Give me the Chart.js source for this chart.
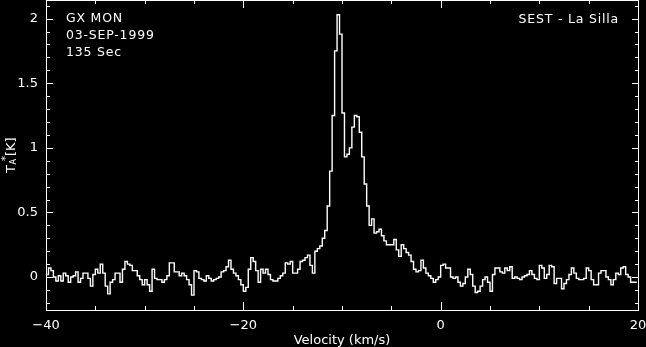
<!DOCTYPE html>
<html>
<head>
<meta charset="utf-8">
<script src="https://cdn.jsdelivr.net/npm/chart.js@4.4.1/dist/chart.umd.min.js"></script>
<style>
  html, body { margin: 0; padding: 0; background: #000; }
  #wrap { width: 646px; height: 347px; }
</style>
</head>
<body>
<div id="wrap"><canvas id="spec" width="646" height="347"></canvas></div>
<script>
// GX Mon spectrum (SEST), antenna temperature per channel
const vStart = -40;        // km/s, left edge of first channel
const channelWidth = 0.25; // km/s
const tA = [
   0.02,  0.07,  0.05,  0.00, -0.03,  0.01, -0.03,  0.03,  0.01, -0.04,
   0.00,  0.01,  0.04, -0.04, -0.01,  0.03,  0.03, -0.01, -0.07,  0.02,
   0.06,  0.03,  0.10,  0.03, -0.07, -0.13, -0.04, -0.02,  0.03,  0.03,
  -0.04,  0.06,  0.12,  0.10,  0.09,  0.05,  0.05,  0.01, -0.02, -0.06,
  -0.02, -0.06, -0.11,  0.06, -0.01, -0.02, -0.02, -0.04, -0.02,  0.01,
   0.11,  0.11,  0.04,  0.04,  0.01,  0.03,  0.01, -0.02, -0.06, -0.14,
   0.05,  0.04, -0.01, -0.02, -0.03,  0.01, -0.01, -0.03, -0.02, -0.01,
   0.00,  0.04,  0.05,  0.08,  0.13,  0.06,  0.03,  0.01, -0.02, -0.06,
  -0.11, -0.08,  0.06,  0.15,  0.12,  0.05, -0.04,  0.06,  0.03,  0.06,
   0.02, -0.02, -0.03, -0.03, -0.01,  0.01,  0.03,  0.11,  0.10,  0.12,
   0.03,  0.03,  0.06,  0.12,  0.13,  0.15,  0.17,  0.09,  0.03,  0.20,
   0.22,  0.24,  0.30,  0.36,  0.55,  0.82,  1.25,  1.75,  2.03,  1.88,
   1.27,  0.93,  0.95,  1.00,  1.16,  1.25,  1.24,  1.12,  0.93,  0.72,
   0.55,  0.40,  0.45,  0.34,  0.35,  0.37,  0.32,  0.28,  0.25,  0.25,
   0.25,  0.29,  0.21,  0.16,  0.25,  0.22,  0.19,  0.17,  0.12,  0.06,
   0.04,  0.05,  0.13,  0.07,  0.03,  0.01, -0.01, -0.04, -0.02,  0.00,
   0.09,  0.10,  0.07,  0.07,  0.00, -0.01,  0.00, -0.04, -0.07, -0.05,
   0.00,  0.06,  0.02, -0.07, -0.12, -0.11, -0.07, -0.02,  0.00, -0.04,
  -0.11,  0.02,  0.07,  0.07,  0.04,  0.03,  0.07,  0.05,  0.08, -0.01,
   0.00, -0.01, -0.02,  0.00,  0.01,  0.02,  0.05,  0.02, -0.01, -0.02,
   0.09,  0.07, -0.01,  0.02,  0.09,  0.08, -0.05, -0.01, -0.01, -0.09,
  -0.05, -0.02,  0.02,  0.07,  0.03, -0.01, -0.02, -0.02, -0.01,  0.07,
   0.05, -0.02, -0.06, -0.06,  0.03,  0.05,  0.05,  0.00, -0.02, -0.06,
  -0.02,  0.03,  0.02,  0.07,  0.08,  0.02,  0.00, -0.04, -0.04, -0.04
];
const xTicks = [-40, -20, 0, 20];
const yTicks = [0, 0.5, 1, 1.5, 2];
const xRange = [-40, 20];
const yRange = [-0.255, 2.144];
const headerLines = ['GX MON', '03-SEP-1999', '135 Sec'];
const siteLabel = 'SEST - La Silla';

const FONT = 'DejaVu Sans';

function fmtTick(v) {
    return v < 0 ? '\u2212' + Math.abs(v) : String(v);
}

// black page, boxed frame with inward ticks, header text, y label
const frameAndText = {
    id: 'frameAndText',
    beforeDraw(chart) {
        const ctx = chart.ctx;
        ctx.save();
        ctx.fillStyle = '#000';
        ctx.fillRect(0, 0, chart.width, chart.height);
        ctx.restore();
    },
    afterDraw(chart) {
        const { ctx, chartArea: a, scales: { x, y } } = chart;
        ctx.save();
        ctx.strokeStyle = '#fff';
        ctx.lineWidth = 1;
        ctx.strokeRect(a.left + 0.5, a.top + 0.5, a.right - a.left, a.bottom - a.top);

        ctx.beginPath();
        for (let k = -2; k <= 21; k++) {
            const py = Math.round(y.getPixelForValue(k / 10)) + 0.5;
            const len = k % 5 === 0 ? 7 : 4;
            ctx.moveTo(a.left, py); ctx.lineTo(a.left + len, py);
            ctx.moveTo(a.right + 1, py); ctx.lineTo(a.right + 1 - len, py);
        }
        for (let v = xRange[0] + 5; v < xRange[1]; v += 5) {
            const px = Math.round(x.getPixelForValue(v)) + 0.5;
            const len = v % 20 === 0 ? 8 : 4;
            ctx.moveTo(px, a.bottom); ctx.lineTo(px, a.bottom - len);
            ctx.moveTo(px, a.top); ctx.lineTo(px, a.top + len);
        }
        ctx.stroke();

        ctx.fillStyle = '#fff';
        ctx.font = '12.5px "' + FONT + '"';
        ctx.letterSpacing = '0.8px';
        ctx.textBaseline = 'alphabetic';
        ctx.textAlign = 'left';
        headerLines.forEach((t, i) => ctx.fillText(t, 66, 21.5 + i * 17.4));
        ctx.textAlign = 'right';
        ctx.fillText(siteLabel, 619, 22.5);
        ctx.letterSpacing = '0px';

        // T_A^*[K], rotated
        ctx.translate(15, 173);
        ctx.rotate(-Math.PI / 2);
        ctx.textAlign = 'left';
        ctx.font = '13px "' + FONT + '"';
        ctx.fillText('T', 0, 0);
        ctx.font = '8px "' + FONT + '"';
        ctx.fillText('A', 8.5, 1);
        ctx.font = '10px "' + FONT + '"';
        ctx.fillText('*', 12, -6);
        ctx.font = '13px "' + FONT + '"';
        ctx.fillText('[K]', 17, 0);
        ctx.restore();
    }
};

const points = tA.map((t, i) => ({ x: vStart + channelWidth * (i + 0.5), y: t }));

new Chart(document.getElementById('spec'), {
    type: 'line',
    data: {
        datasets: [{
            data: points,
            borderColor: '#fff',
            borderWidth: 1.4,
            pointRadius: 0,
            stepped: 'middle',
            fill: false
        }]
    },
    options: {
        responsive: false,
        animation: false,
        events: [],
        devicePixelRatio: 1,
        layout: { padding: { top: 0, right: 8, left: 0, bottom: 0 } },
        plugins: { legend: { display: false }, tooltip: { enabled: false } },
        scales: {
            x: {
                type: 'linear',
                min: xRange[0],
                max: xRange[1],
                grid: { display: false, drawTicks: false },
                border: { display: false },
                afterBuildTicks: s => { s.ticks = xTicks.map(v => ({ value: v })); },
                ticks: {
                    color: '#fff',
                    font: { family: FONT, size: 13 },
                    padding: 8,
                    maxRotation: 0,
                    autoSkip: false,
                    callback: v => fmtTick(v)
                },
                title: {
                    display: true,
                    text: 'Velocity (km/s)',
                    color: '#fff',
                    font: { family: FONT, size: 13, lineHeight: 1 },
                    padding: 0
                },
                afterFit: s => { s.height = 37; s.paddingLeft = 0; s.paddingRight = 0; }
            },
            y: {
                type: 'linear',
                min: yRange[0],
                max: yRange[1],
                grid: { display: false, drawTicks: false },
                border: { display: false },
                afterBuildTicks: s => { s.ticks = yTicks.map(v => ({ value: v })); },
                ticks: {
                    color: '#fff',
                    font: { family: FONT, size: 13 },
                    padding: 8,
                    callback: v => fmtTick(v)
                },
                afterFit: s => { s.width = 46; s.paddingTop = 0; s.paddingBottom = 0; }
            }
        }
    },
    plugins: [frameAndText]
});
</script>
</body>
</html>
